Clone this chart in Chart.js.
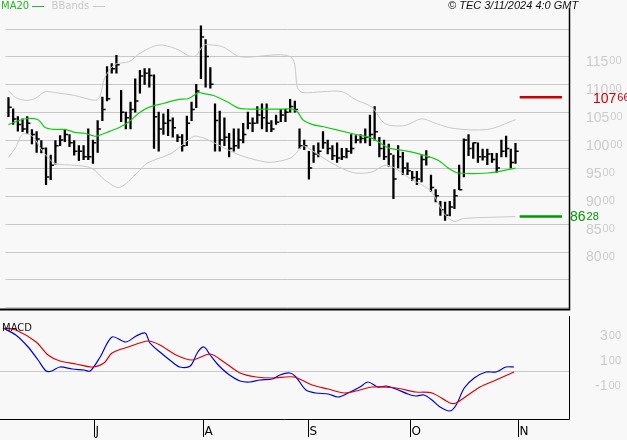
<!DOCTYPE html>
<html lang="en">
<head>
  <meta charset="UTF-8" />
  <title>Price chart</title>
  <script src="https://cdn.jsdelivr.net/npm/chart.js"></script>
  <style>
    html, body { margin: 0; padding: 0; background: #f8f8f8; }
    #wrap { position: relative; width: 627px; height: 440px; overflow: hidden; }
    #priceBox { position: absolute; left: 0; top: 0; width: 627px; height: 316px; }
    #macdBox { position: absolute; left: 0; top: 316px; width: 627px; height: 124px; }
    .lbl { position: absolute; font-family: "DejaVu Sans", sans-serif; font-size: 10px; white-space: nowrap; }
  </style>
</head>
<body>
  <div id="wrap">
    <div id="priceBox"><canvas id="priceChart"></canvas></div>
    <div id="macdBox"><canvas id="macdChart"></canvas></div>
    <div class="lbl" style="left:1px;top:0px;color:#22bb22">MA20 <span style="display:inline-block;width:12px;border-top:1px solid #22bb22;vertical-align:middle"></span>
      <span style="color:#c8c8c8;margin-left:4px">BBands <span style="display:inline-block;width:12px;border-top:1px solid #c8c8c8;vertical-align:middle"></span></span></div>
    <div class="lbl" style="left:448px;top:-1px;font-family:'Liberation Sans',sans-serif;font-style:italic;font-size:11px;color:#111">© TEC 3/11/2024 4:0 GMT</div>
    <div class="lbl" style="left:2px;top:322px;color:#111">MACD</div>
  </div>

  <script>
    // ---- data ----
    const high = [10760,10560,10420,10380,10420,10190,10150,9990,9860,9730,
      9990,10080,10190,10100,9990,9900,9900,10200,10000,10350,
      10770,11320,11370,11520,10890,10500,10680,11100,11250,11280,
      11280,11170,10500,10470,10550,10400,10100,10100,10430,10680,
      11000,12050,11800,11300,10650,10520,10400,10120,10200,10200,
      10300,10500,10400,10600,10650,10650,10350,10450,10550,10550,
      10730,10700,10200,10000,9800,9900,9950,10150,10000,9900,
      9950,9850,9850,10100,10080,10100,10200,10450,10600,10050,
      10000,9930,9730,9900,
      9780,9590,9440,9440,9720,9810,9370,9110,8900,8890,8900,9110,9550,10020,10100,9950,9950,9840,9840,9760,9760,10000,10070,9840,9940];
    const low = [10420,10280,10160,10150,10120,9930,9780,9770,9200,9290,
      9570,9900,9970,9880,9730,9630,9650,9650,9580,9780,
      10350,10700,11200,11200,10330,10200,10200,10500,10840,11000,
      10950,9850,9800,10100,10080,10050,9970,9800,9900,10350,
      10580,11100,10950,10930,9800,9800,9900,9700,9800,9850,
      9950,10200,10150,10300,10200,10150,10150,10280,10330,10330,
      10500,10500,9850,9830,9300,9600,9700,9850,9750,9650,
      9600,9650,9680,9760,9950,9950,9950,9900,10000,9700,
      9650,9530,8950,9500,
      9380,9380,9270,9200,9250,9550,9080,8890,8650,8560,8640,8770,9110,9340,9720,9670,9600,9640,9560,9600,9420,9700,9700,9500,9580];
    const close = [10590,10380,10280,10200,10300,10100,10020,9850,9340,9550,
      9900,10000,10100,9950,9800,9800,9700,9700,9950,10200,
      10550,10740,11280,11350,10500,10400,10550,10700,11150,11200,
      11160,10420,10200,10300,10350,10220,10050,9900,10300,10550,
      10880,11850,11500,11000,10350,10000,10050,9850,9900,10000,
      10100,10300,10300,10450,10400,10300,10200,10320,10450,10500,
      10600,10550,9900,9900,9500,9750,9800,9950,9850,9720,
      9680,9700,9800,9850,10000,10030,10050,10100,10150,9850,
      9700,9750,9300,9700,
      9500,9450,9330,9300,9650,9700,9150,9000,8750,8650,8800,9000,9110,10000,9850,9950,9700,9700,9750,9650,9500,9800,9850,9600,9800];

    const maPos = [0,3.6,6.3,7.8,9.9,12.0,14.1,16.2,18.4,19.4,21.5,23.6,25.7,27.8,30.0,33.1,36.3,38.4,40.5,41.6,43.7,46.8,49.0,51.1,54.2,58.4,60.5,61.6,62.7,64.8,66.9,73.8,77.4,81.0,84.4,88.0,91.6,93.7,95.8,102.1,108];
    const maVals = [10278,10382,10365,10226,10191,10191,10139,10122,10069,10087,10156,10226,10330,10486,10590,10660,10729,10746,10851,10833,10799,10677,10573,10556,10556,10556,10556,10503,10365,10278,10243,10104,10035,9861,9809,9740,9635,9497,9410,9410,9497];

    const upPos = [0,1.5,3.6,5.7,7.8,9.9,14.1,18.4,19.4,20.5,22.6,25.7,27.8,31.0,33.1,36.3,38.4,39.9,41.6,43.7,45.8,49.4,60.1,61.6,62.7,66.9,71.1,73.8,77.4,80.2,84.4,88.0,91.1,94.9,102.1,108];
    const upVals = [10885,10764,10712,10746,10868,10851,10799,10712,10764,11111,11354,11406,11545,11684,11701,11614,11510,11510,11701,11701,11667,11493,11493,10937,10851,10868,10868,10729,10590,10295,10260,10382,10295,10208,10191,10365];

    const loPos = [0,1.5,3.0,5.1,7.2,9.9,14.1,17.7,20.5,23.6,27.4,29.5,34.6,37.3,39.5,41.6,43.0,48.5,51.5,55.7,59.9,61.2,62.7,64.1,66.9,70.5,73.8,77.4,80.2,82.3,85.9,88.0,90.1,92.8,94.9,97.0,108];
    const loVals = [9688,9861,10104,10069,9809,9583,9549,9497,9288,9149,9410,9583,9757,9931,10069,10035,9983,9757,9670,9601,9670,9757,9896,9844,9688,9514,9410,9427,9549,9497,9288,9201,9080,8681,8542,8594,8628];

    const macdPos = [0,2.7,5.3,7.4,9.1,10.3,12.0,14.6,17.1,18.4,20.5,23.0,25.9,28.1,30.0,31.0,33.1,35.7,37.3,39.5,41.1,42.4,43.7,45.4,47.5,50.0,52.1,54.2,56.8,58.4,60.5,61.8,63.9,66.0,68.6,70.7,72.8,75.3,77.0,79.1,80.8,82.9,85.4,87.1,88.8,90.5,92.2,94.3,95.6,97.3,99.4,101.9,104.0,106.1,107.8];
    const macdVals = [344,288,192,88,0,0,32,16,8,0,112,272,232,280,304,224,152,72,32,40,152,192,128,48,-24,-80,-88,-72,-64,-32,-16,-48,-152,-176,-184,-208,-176,-128,-88,-128,-120,-144,-184,-200,-192,-232,-288,-320,-272,-136,-56,-8,-8,32,32];
    const sigPos = [0,2.7,7.0,9.5,12.0,15.4,18.8,21.3,23.0,26.4,30.6,33.1,36.5,39.9,43.7,46.6,50.0,53.4,56.8,61.4,65.2,68.6,72.0,75.3,77.8,82.9,87.1,90.5,94.3,95.6,100.6,104.0,107.8];
    const sigVals = [344,328,232,128,80,56,32,64,144,192,240,208,128,88,136,72,-16,-48,-56,-48,-112,-144,-176,-152,-128,-136,-168,-176,-256,-256,-128,-72,-8];

    const months = ['J','A','S','O','N'];
    const monthPos = [19.2,42.2,64.3,85.9,108.6];
    const priceTicks = [11500,11000,10500,10000,9500,9000,8500,8000];
    const macdTicks = [300,100,-100];
    const resistance = 10766;
    const support = 8628;
    const levelSpan = [108.9, 117.9];

    // ---- helpers ----
    const X_MIN = -0.63, X_MAX = 119.4;
    const pts = (xs, ys) => xs.map((x, i) => ({ x, y: ys[i] }));
    const lineDs = (data, color, width) => ({
      type: 'line', data, borderColor: color, borderWidth: width,
      pointRadius: 0, tension: 0.3, fill: false
    });

    function splitLabel(ctx, big, small, x, y, color) {
      ctx.fillStyle = color;
      ctx.textBaseline = 'middle';
      ctx.font = '14px "Liberation Sans", sans-serif';
      ctx.fillText(big, x, y);
      const w = ctx.measureText(big).width;
      ctx.font = '11px "Liberation Sans", sans-serif';
      ctx.fillText(small, x + w + 1, y - 1);
    }

    const priceDecor = {
      id: 'priceDecor',
      beforeDatasetsDraw(chart) {
        const { ctx, chartArea: a, scales: { y } } = chart;
        ctx.save();
        ctx.strokeStyle = '#c8c8c8';
        ctx.lineWidth = 1;
        for (let v = 7000; v <= 12000; v += 500) {
          const py = Math.round(y.getPixelForValue(v)) + 0.5;
          ctx.beginPath(); ctx.moveTo(a.left, py); ctx.lineTo(a.right, py); ctx.stroke();
        }
        ctx.restore();
      },
      afterDraw(chart) {
        const { ctx, chartArea: a, scales: { y } } = chart;
        ctx.save();
        ctx.strokeStyle = '#000';
        ctx.lineWidth = 1.5;
        ctx.beginPath(); ctx.moveTo(a.right + 0.5, 8); ctx.lineTo(a.right + 0.5, a.bottom); ctx.stroke();
        ctx.lineWidth = 2;
        ctx.beginPath(); ctx.moveTo(0, a.bottom - 1); ctx.lineTo(a.right, a.bottom - 1); ctx.stroke();
        priceTicks.forEach(v => {
          const s = String(v);
          splitLabel(ctx, s.slice(0, -2), s.slice(-2), a.right + 17, y.getPixelForValue(v) + 6, '#cccccc');
        });
        const r = String(resistance), su = String(support);
        splitLabel(ctx, r.slice(0, -2), r.slice(-2), a.right + 24, y.getPixelForValue(resistance) + 2, '#cc0000');
        splitLabel(ctx, su.slice(0, -2), su.slice(-2), a.right + 1, y.getPixelForValue(support) + 1, '#009900');
        ctx.restore();
      }
    };

    const macdDecor = {
      id: 'macdDecor',
      beforeDatasetsDraw(chart) {
        const { ctx, chartArea: a, scales: { y } } = chart;
        ctx.save();
        ctx.strokeStyle = '#c8c8c8';
        const py = Math.round(y.getPixelForValue(0)) + 0.5;
        ctx.beginPath(); ctx.moveTo(a.left, py); ctx.lineTo(a.right, py); ctx.stroke();
        ctx.restore();
      },
      afterDraw(chart) {
        const { ctx, chartArea: a, scales: { x, y } } = chart;
        ctx.save();
        ctx.strokeStyle = '#000';
        ctx.lineWidth = 1;
        ctx.beginPath(); ctx.moveTo(a.right + 0.5, a.top); ctx.lineTo(a.right + 0.5, a.bottom + 0.5); ctx.lineTo(0, a.bottom + 0.5); ctx.stroke();
        ctx.font = '12px "DejaVu Sans", sans-serif';
        ctx.textBaseline = 'top';
        ctx.fillStyle = '#000';
        months.forEach((m, i) => {
          const px = Math.round(x.getPixelForValue(monthPos[i])) + 0.5;
          ctx.beginPath(); ctx.moveTo(px, a.bottom + 1); ctx.lineTo(px, a.bottom + 18); ctx.stroke();
          ctx.fillText(m, px + 1, a.bottom + 7);
        });
        macdTicks.forEach(v => {
          const s = String(v);
          splitLabel(ctx, s.slice(0, -2), s.slice(-2), a.right + (v < 0 ? 26 : 31), y.getPixelForValue(v) + 3, '#cccccc');
        });
        ctx.restore();
      }
    };

    const hiddenX = { type: 'linear', min: X_MIN, max: X_MAX, display: false, offset: false };

    new Chart(document.getElementById('priceChart'), {
      data: {
        datasets: [
          lineDs(pts(upPos, upVals), '#c8c8c8', 1),
          lineDs(pts(loPos, loVals), '#c8c8c8', 1),
          lineDs(pts(maPos, maVals), '#11cc11', 1.2),
          {
            type: 'bar',
            data: high.map((h, i) => ({ x: i, y: [low[i], h] })),
            backgroundColor: '#000', barThickness: 1.6, borderWidth: 0
          },
          {
            type: 'scatter',
            data: close.map((c, i) => ({ x: i + 0.35, y: c })),
            pointStyle: 'line', radius: 1.6, borderColor: '#000', borderWidth: 1.5
          },
          lineDs(levelSpan.map(x => ({ x, y: resistance })), '#cc0000', 2.5),
          lineDs(levelSpan.map(x => ({ x, y: support })), '#009900', 2.5)
        ]
      },
      options: {
        responsive: true, maintainAspectRatio: false, animation: false,
        layout: { padding: { right: 58 } },
        plugins: { legend: { display: false }, tooltip: { enabled: false } },
        scales: { x: hiddenX, y: { min: 6944, max: 12413, display: false } }
      },
      plugins: [priceDecor]
    });

    new Chart(document.getElementById('macdChart'), {
      type: 'line',
      data: {
        datasets: [
          lineDs(pts(sigPos, sigVals), '#dd0000', 1.2),
          lineDs(pts(macdPos, macdVals), '#0000dd', 1.2)
        ]
      },
      options: {
        responsive: true, maintainAspectRatio: false, animation: false,
        layout: { padding: { right: 58, bottom: 21 } },
        plugins: { legend: { display: false }, tooltip: { enabled: false } },
        scales: { x: hiddenX, y: { min: -384, max: 440, display: false } }
      },
      plugins: [macdDecor]
    });
  </script>
</body>
</html>
